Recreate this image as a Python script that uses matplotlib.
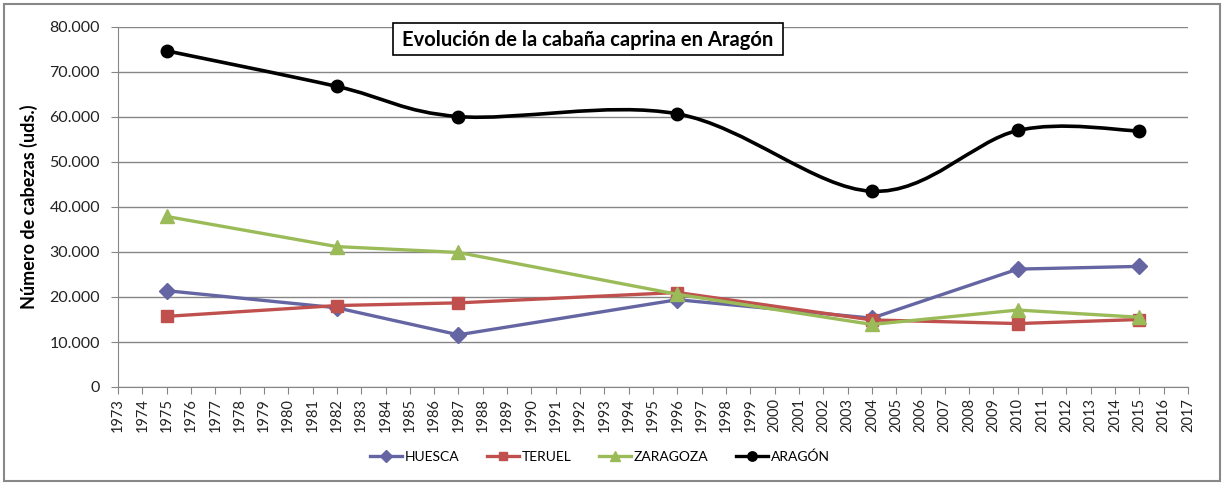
import matplotlib.pyplot as plt
from matplotlib.path import Path
from matplotlib.patches import PathPatch, Rectangle
from matplotlib.lines import Line2D
from matplotlib.ticker import FuncFormatter, MultipleLocator

years = [1975, 1982, 1987, 1996, 2004, 2010, 2015]
huesca = [21400, 17600, 11600, 19400, 15300, 26200, 26800]
teruel = [15700, 18100, 18700, 21000, 14900, 14100, 15000]
zaragoza = [37900, 31200, 29900, 20600, 13900, 17100, 15500]
aragon = [74700, 66800, 60100, 60700, 43500, 57000, 56900]

# name, values, colour, marker, marker size, smoothed
series = [
    ('HUESCA', huesca, '#6465A2', 'D', 8, False),
    ('TERUEL', teruel, '#C0504D', 's', 8, False),
    ('ZARAGOZA', zaragoza, '#9BBB59', '^', 10, False),
    ('ARAGÓN', aragon, '#000000', 'o', 9, True),
]

plt.rcParams['font.family'] = ['Lato', 'DejaVu Sans']


def smooth_path(xs, ys):
    # excel-like smoothed line: catmull-rom converted to cubic bezier
    pts = list(zip(xs, ys))
    verts = [pts[0]]
    codes = [Path.MOVETO]
    n = len(pts)
    for i in range(n - 1):
        p0 = pts[i - 1] if i > 0 else pts[i]
        p1 = pts[i]
        p2 = pts[i + 1]
        p3 = pts[i + 2] if i + 2 < n else pts[i + 1]
        c1 = (p1[0] + (p2[0] - p0[0]) / 6, p1[1] + (p2[1] - p0[1]) / 6)
        c2 = (p2[0] - (p3[0] - p1[0]) / 6, p2[1] - (p3[1] - p1[1]) / 6)
        verts += [c1, c2, p2]
        codes += [Path.CURVE4] * 3
    return Path(verts, codes)


fig = plt.figure(figsize=(12.26, 4.84), dpi=100)
ax = fig.add_axes([118 / 1226, 1 - 387 / 484, 1070 / 1226, 360 / 484])

handles = []
for name, vals, color, marker, ms, smooth in series:
    if smooth:
        patch = PathPatch(smooth_path(years, vals), facecolor='none', edgecolor=color,
                          lw=2.6, capstyle='round', joinstyle='round', zorder=3)
        ax.add_patch(patch)
        ax.plot(years, vals, linestyle='none', marker=marker, color=color,
                markersize=ms, zorder=4)
    else:
        ax.plot(years, vals, color=color, lw=2.4, marker=marker,
                markersize=ms, zorder=3)
    handles.append(Line2D([], [], color=color, lw=2.4, marker=marker,
                          markersize=ms * 0.75, label=name))

ax.set_xlim(1973, 2017)
ax.set_ylim(0, 80000)
ax.set_xticks(range(1973, 2018))
ax.set_xticklabels([str(y) for y in range(1973, 2018)], rotation=90, fontsize=10.5)
ax.yaxis.set_major_locator(MultipleLocator(10000))
ax.yaxis.set_major_formatter(FuncFormatter(lambda v, p: f'{v:,.0f}'.replace(',', '.')))
ax.tick_params(axis='y', labelsize=11.5, colors='#868686', labelcolor='#222222', length=5, pad=8)
ax.tick_params(axis='x', colors='#868686', labelcolor='#222222', length=5, pad=3)
ax.grid(axis='y', color='#868686', lw=1)
ax.set_axisbelow(True)
for s in ['top', 'right']:
    ax.spines[s].set_visible(False)
for s in ['left', 'bottom']:
    ax.spines[s].set_color('#868686')

ax.set_ylabel('Número de cabezas (uds.)', fontsize=13, fontweight='bold', labelpad=8)

# title box
fig.patches.append(Rectangle((393 / 1226, 1 - 55 / 484), 390 / 1226, 32 / 484,
                             transform=fig.transFigure, facecolor='white',
                             edgecolor='black', lw=1.2, zorder=5))
fig.text(588 / 1226, 1 - 40 / 484, 'Evolución de la cabaña caprina en Aragón',
         ha='center', va='center', fontsize=14.5, fontweight='bold', zorder=6)

fig.legend(handles=handles, loc='center', bbox_to_anchor=(600 / 1226, 1 - 457 / 484),
           ncol=4, frameon=False, fontsize=10, handlelength=2.3, columnspacing=2.0,
           handletextpad=0.2)

# chart border
fig.patches.append(Rectangle((4 / 1226, 3 / 484), 1216 / 1226, 477 / 484,
                             transform=fig.transFigure, facecolor='none',
                             edgecolor='#888888', lw=1.5))

fig.savefig('out.png', dpi=100)
